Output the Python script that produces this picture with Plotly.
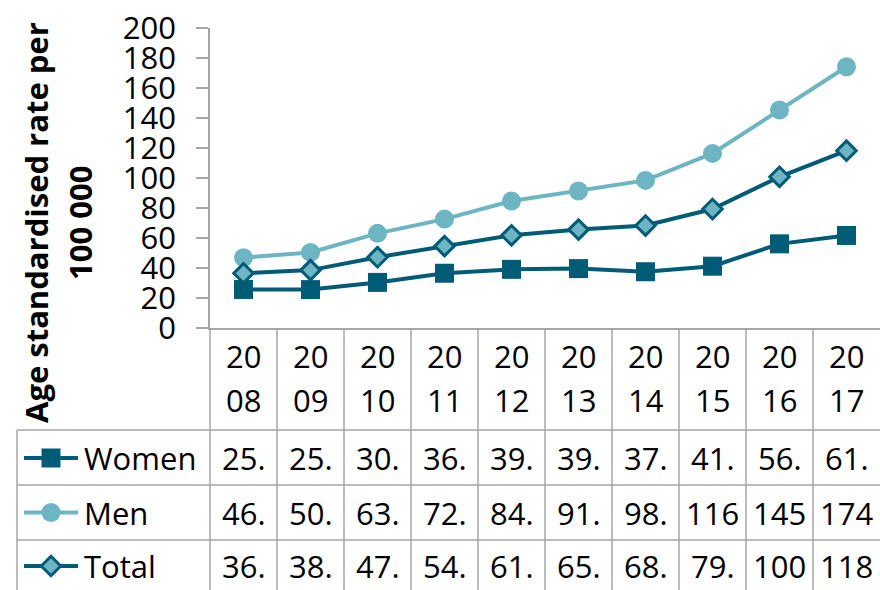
import plotly.graph_objects as go

years = ["2008", "2009", "2010", "2011", "2012", "2013", "2014", "2015", "2016", "2017"]
women = [25.7, 25.6, 30.4, 36.5, 39.1, 39.6, 37.5, 41.2, 56.1, 61.7]
men = [46.9, 50.4, 63.1, 72.6, 84.7, 91.3, 98.4, 116.4, 145.3, 174.2]
total = [36.5, 38.6, 47.2, 54.6, 61.8, 65.6, 68.3, 79.3, 100.8, 118.2]
series_names = ["Women", "Men", "Total"]
y_title_lines = ["Age standardised rate per", "100 000"]

W, H = 880, 590
DARK = "#005B76"
LIGHT = "#6DB5C3"
GRID = "#A6A6A6"
FONT = "Open Sans"
FS = 31

def py(px):  # pixel-from-top to paper
    return (H - px) / H

def pxx(px):
    return px / W

x_idx = list(range(len(years)))

fig = go.Figure()

styles = [
    dict(line=dict(color=DARK, width=4), marker=dict(symbol="square", size=19, color=DARK)),
    dict(line=dict(color=LIGHT, width=4), marker=dict(symbol="circle", size=19, color=LIGHT)),
    dict(line=dict(color=DARK, width=4),
         marker=dict(symbol="diamond", size=15, color=LIGHT, line=dict(color=DARK, width=3))),
]
data = [women, men, total]

for name, vals, st in zip(series_names, data, styles):
    fig.add_trace(go.Scatter(x=x_idx, y=vals, mode="lines+markers", name=name,
                             line=st["line"], marker=st["marker"], showlegend=False,
                             cliponaxis=False))

# legend keys inside table (pixel-space overlay axes)
row_centers = [458, 512.5, 566]
for name, st, rc in zip(series_names, styles, row_centers):
    fig.add_trace(go.Scatter(x=[24, 51, 78], y=[rc, rc, rc], mode="lines", xaxis="x2", yaxis="y2",
                             line=st["line"], showlegend=False, hoverinfo="skip"))
    fig.add_trace(go.Scatter(x=[51], y=[rc], mode="markers", xaxis="x2", yaxis="y2",
                             marker=st["marker"], showlegend=False, hoverinfo="skip"))

annotations = []
# header
for i, yr in enumerate(years):
    annotations.append(dict(x=i, xref="x", y=py(356), yref="paper", text=yr[:2], showarrow=False,
                            font=dict(family=FONT, size=FS, color="black"), xanchor="center", yanchor="middle"))
    annotations.append(dict(x=i, xref="x", y=py(400), yref="paper", text=yr[2:], showarrow=False,
                            font=dict(family=FONT, size=FS, color="black"), xanchor="center", yanchor="middle"))
# values (truncated as in narrow cells)
for vals, rc in zip(data, row_centers):
    for i, v in enumerate(vals):
        annotations.append(dict(x=i, xref="x", y=py(rc), yref="paper", text=f"{v:.1f}"[:3], showarrow=False,
                                font=dict(family=FONT, size=FS, color="black"), xanchor="center", yanchor="middle"))
# legend labels
for name, rc in zip(series_names, row_centers):
    annotations.append(dict(x=pxx(82), xref="paper", y=py(rc), yref="paper", text=name, showarrow=False,
                            font=dict(family=FONT, size=FS, color="black"), xanchor="left", yanchor="middle"))
# y title
for line, cx in zip(y_title_lines, [36, 80]):
    annotations.append(dict(x=pxx(cx), xref="paper", y=py(223), yref="paper", text=f"<b>{line}</b>", showarrow=False,
                            textangle=-90, font=dict(family=FONT, size=31, color="black"),
                            xanchor="center", yanchor="middle"))

shapes = []
lw = 1.5
# vertical column separators
for i in range(1, len(years)):
    shapes.append(dict(type="line", xref="x", yref="paper", x0=i - 0.5, x1=i - 0.5, y0=py(328), y1=py(H),
                       line=dict(color=GRID, width=lw)))
shapes.append(dict(type="line", xref="paper", yref="paper", x0=pxx(210), x1=pxx(210), y0=py(328), y1=py(H),
                   line=dict(color=GRID, width=lw)))
shapes.append(dict(type="line", xref="paper", yref="paper", x0=pxx(17), x1=pxx(17), y0=py(430), y1=py(H),
                   line=dict(color=GRID, width=lw)))
for yy in [430, 485, 540]:
    shapes.append(dict(type="line", xref="paper", yref="paper", x0=pxx(17), x1=1, y0=py(yy), y1=py(yy),
                       line=dict(color=GRID, width=lw)))

fig.update_layout(
    template="none",
    width=W, height=H,
    margin=dict(l=0, r=0, t=0, b=0, autoexpand=False),
    paper_bgcolor="white", plot_bgcolor="rgba(0,0,0,0)",
    showlegend=False,
    xaxis=dict(domain=[pxx(210), 1], range=[-0.5, len(years) - 0.5], showticklabels=False, automargin=False,
               showgrid=False, zeroline=False, showline=True, linecolor=GRID, linewidth=lw, ticks=""),
    yaxis=dict(domain=[py(328), py(28)], range=[0, 200], dtick=20, showgrid=False, zeroline=False,
               automargin=False,
               showline=True, linecolor=GRID, linewidth=lw, ticks="outside", ticklen=12,
               tickcolor=GRID, tickwidth=lw, ticklabelstandoff=14,
               tickfont=dict(family=FONT, size=FS, color="black")),
    xaxis2=dict(domain=[0, 1], range=[0, W], visible=False, fixedrange=True, automargin=False),
    yaxis2=dict(domain=[0, 1], range=[H, 0], visible=False, fixedrange=True, anchor="x2", automargin=False),
    annotations=annotations,
    shapes=shapes,
)

fig.write_html("out.html")
